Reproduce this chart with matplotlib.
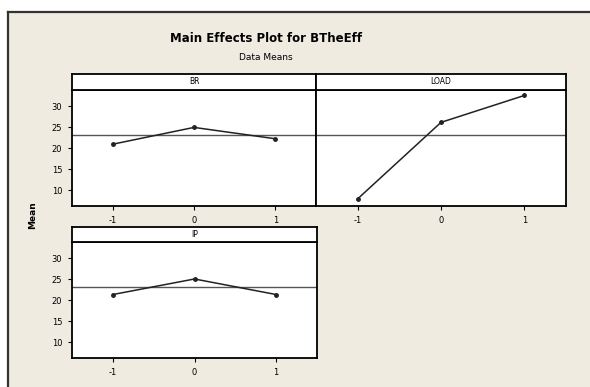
import numpy as np
import matplotlib.pyplot as plt

# levels of every factor
levels = [-1, 0, 1]
# main effect means
br_means = [21.0, 25.0, 22.3]
load_means = [8.0, 26.2, 32.6]
ip_means = [21.4, 25.1, 21.4]
grand_mean = 23.1
y_ticks = [10, 15, 20, 25, 30]

W, H = 590, 387
bg = '#efebe1'

fig = plt.figure(figsize=(W / 100, H / 100), dpi=100)
fig.patch.set_facecolor('white')


def box(x0, y0, x1, y1):
    # pixel box (top-left origin) -> figure fraction rect
    return [x0 / W, 1 - y1 / H, (x1 - x0) / W, (y1 - y0) / H]


# beige frame of the minitab graph window
frame = fig.add_axes(box(8, 12, 620, 420))
frame.set_facecolor(bg)
frame.set_xticks([])
frame.set_yticks([])
for s in ['bottom', 'right']:
    frame.spines[s].set_visible(False)
for s in ['top', 'left']:
    frame.spines[s].set_linewidth(1.6)
    frame.spines[s].set_color('#333333')

fig.text(266 / W, 1 - 39 / H, 'Main Effects Plot for BTheEff', ha='center', va='center',
         fontsize=8.5, fontweight='heavy')
fig.text(266 / W, 1 - 57 / H, 'Data Means', ha='center', va='center', fontsize=6.5)
fig.text(33 / W, 1 - 215 / H, 'Mean', ha='center', va='center', rotation=90,
         fontsize=6.5, fontweight='heavy')

panels = [
    ('BR', br_means, (72, 74, 316, 90, 206), True),
    ('LOAD', load_means, (316, 74, 566, 90, 206), False),
    ('IP', ip_means, (72, 227, 317, 242, 358), True),
]

for name, vals, (x0, yh, x1, yt, yb), show_y in panels:
    ax = fig.add_axes(box(x0, yt, x1, yb))
    ax.set_facecolor('white')
    ax.axhline(grand_mean, color='#555555', lw=1.0)
    ax.plot(levels, vals, color='#222222', lw=1.1, marker='o', ms=2.5)
    ax.set_xlim(-1.5, 1.5)
    ax.set_ylim(6.3, 33.9)
    ax.set_xticks(levels)
    ax.set_xticklabels([str(v) for v in levels])
    for s in ax.spines.values():
        s.set_linewidth(1.3)
    ax.tick_params(labelsize=6, length=3, width=0.8, pad=4)
    if show_y:
        ax.set_yticks(y_ticks)
    else:
        ax.set_yticks([])

    head = fig.add_axes(box(x0, yh, x1, yt))
    head.set_facecolor('white')
    head.set_xticks([])
    head.set_yticks([])
    for s in head.spines.values():
        s.set_linewidth(1.3)
    head.text(0.5, 0.5, name, ha='center', va='center', fontsize=5.5,
              transform=head.transAxes)

fig.savefig('out.png', dpi=100, facecolor=fig.get_facecolor())
